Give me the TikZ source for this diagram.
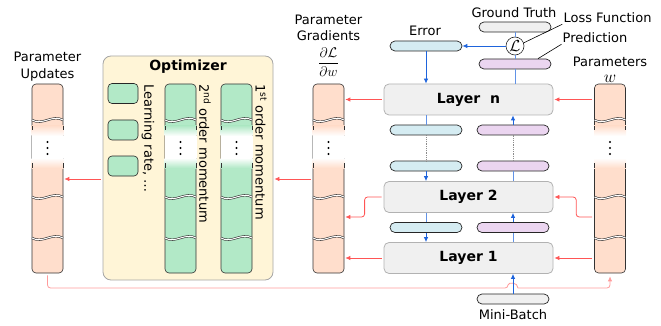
\RequirePackage{fix-cm}
\documentclass[tikz,border=0pt]{standalone}
\usepackage{fontspec}
\setmainfont{DejaVu Sans}
\usetikzlibrary{arrows.meta,positioning}

\definecolor{paramfill}{RGB}{255,222,204}
\definecolor{momfill}{RGB}{178,233,199}
\definecolor{optfill}{RGB}{255,245,215}
\definecolor{layerfill}{RGB}{240,240,240}
\definecolor{errfill}{RGB}{213,236,242}
\definecolor{predfill}{RGB}{235,213,240}
\definecolor{flowblue}{RGB}{30,100,220}
\definecolor{gradred}{RGB}{255,85,85}
\definecolor{updred}{RGB}{255,155,155}

% column of values with a faded middle part and cut marks
\newcommand{\drawcolumn}[3]{%
    \node[column, fill=#3] (#1) at (#2,178.5) {};
    \shade[top color=#3, bottom color=white] (#2-16,126) rectangle (#2+16,136);
    \fill[white] (#2-16,136) rectangle (#2+16,158);
    \shade[top color=white, bottom color=#3] (#2-16,158) rectangle (#2+16,168);
    \foreach \s in {-15.5,15.5}
        \draw[col edge] (#2+\s,126) -- (#2+\s,130) (#2+\s,163) -- (#2+\s,168);
    \foreach \d in {142,148,154}
        \fill (#2,\d) circle (1.1pt);
    \foreach \w in {120,197,238}
        \draw[cut] (#2-15.5,\w) .. controls (#2-5,\w+6) and (#2+5,\w-6) .. (#2+15.5,\w);
}

\begin{document}
\begin{tikzpicture}[x=1pt,y=-1pt]
    \tikzstyle{annot}=[inner sep=1pt, font=\fontsize{13}{17}\selectfont]
    \tikzstyle{side text}=[annot, rotate=-90, anchor=west, inner sep=0pt]
    \tikzstyle{column}=[rectangle, rounded corners=4pt, draw=black!80, line width=0.6pt, minimum width=31pt, minimum height=189pt, inner sep=0pt]
    \tikzstyle{col edge}=[draw=black!80, line width=0.6pt]
    \tikzstyle{cut}=[draw=black!80, line width=0.6pt, double=white, double distance=1pt]
    \tikzstyle{layer box}=[rectangle, rounded corners=5pt, draw=black!30, line width=0.8pt, fill=layerfill, minimum width=169pt, minimum height=31pt, font=\fontsize{14}{16}\selectfont\bfseries]
    \tikzstyle{small bar}=[rectangle, rounded corners=5pt, draw=black!85, line width=0.7pt, minimum width=72pt, minimum height=10pt, inner sep=0pt]
    \tikzstyle{error bar}=[small bar, fill=errfill]
    \tikzstyle{pred bar}=[small bar, fill=predfill]
    \tikzstyle{data bar}=[small bar, fill=layerfill]
    \tikzstyle{lr box}=[rectangle, rounded corners=4pt, draw=black!85, line width=0.6pt, fill=momfill, minimum width=30pt, minimum height=20pt]
    \tikzstyle{loss}=[circle, draw=black!85, line width=0.6pt, fill=white, minimum size=18pt, inner sep=0pt, font=\fontsize{16}{16}\selectfont]
    \tikzstyle{grad arrow}=[draw=gradred, line width=0.8pt, -{Latex[length=5pt,width=4.5pt]}, shorten <=2pt, shorten >=1pt]
    \tikzstyle{upd arrow}=[draw=updred, line width=0.8pt, -{Latex[length=5pt,width=4.5pt]}, gradred, draw=updred, shorten <=2pt, shorten >=3pt]
    \tikzstyle{flow line}=[draw=flowblue!70, line width=0.8pt]
    \tikzstyle{flow arrow}=[flow line, -{Latex[length=5pt,width=4.5pt]}, flowblue]
    \tikzstyle{flow dots}=[draw=black!45, line width=0.8pt, densely dotted]
    \tikzstyle{pointer}=[draw=black, line width=0.6pt]

    \useasboundingbox (0,0) rectangle (661,326);

    % Helper levels for the elbow connectors
    \coordinate (optline) at (0,179);
    \coordinate (sideline) at (0,217);
    \coordinate (HopL) at (508,288);
    \coordinate (HopR) at (518,288);

    % Optimizer with its state
    \node[rectangle, rounded corners=8pt, draw=black!35, line width=0.8pt, fill=optfill, minimum width=170pt, minimum height=224pt] (Opt) at (188,168) {};
    \node[font=\fontsize{14}{16}\selectfont\bfseries] (OptLbl) at (188,67) {Optimizer};
    \foreach \name / \y in {1/93.5,2/130,3/166}
        \node[lr box] (LR-\name) at (123,\y) {};
    \drawcolumn{M2}{180.5}{momfill}
    \drawcolumn{M1}{236.5}{momfill}
    \node[side text] (LRLbl) at (148,84) {Learning rate, \dots};
    \node[side text] (M2Lbl) at (205,84) {2\textsuperscript{nd} order momentum};
    \node[side text] (M1Lbl) at (261,84) {1\textsuperscript{st} order momentum};

    % Parameter columns
    \drawcolumn{U}{47.5}{paramfill}
    \drawcolumn{G}{328.5}{paramfill}
    \drawcolumn{W}{610}{paramfill}
    \node[annot, align=center, anchor=south] (ULbl) at (47.5,82) {Parameter\\Updates};
    \node[annot, align=center, font=\fontsize{13}{16}\selectfont] (GLbl) at (328.5,28) {Parameter\\Gradients};
    \node[inner sep=0pt, font=\fontsize{14}{14}\selectfont] (GFrac) at (328.5,62) {$\displaystyle\frac{\partial\mathcal{L}}{\partial w}$};
    \node[annot, align=center, anchor=south] (WLbl) at (610,84) {Parameters\\[-1pt]{\fontsize{17}{17}\selectfont$w$}};

    % Draw the layers
    \node[layer box] (Ln) at (468.5,99.5) {Layer\ \ n};
    \node[layer box] (L2) at (468.5,197) {Layer 2};
    \node[layer box] (L1) at (468.5,258) {Layer 1};

    % Activations and errors between the layers
    \node[error bar] (E) at (426,46) {};
    \node[error bar] (E1) at (426,130) {};
    \node[error bar] (E2) at (426,166) {};
    \node[error bar] (E3) at (426,227.5) {};
    \node[pred bar] (P) at (515,64) {};
    \node[pred bar] (P1) at (513,130) {};
    \node[pred bar] (P2) at (513,166) {};
    \node[pred bar] (P3) at (513,227.5) {};
    \node[data bar] (GT) at (515,27) {};
    \node[data bar] (MB) at (513,299) {};
    \node[loss] (Loss) at (515,46) {$\mathcal{L}$};

    % Annotate
    \node[annot] (ErrLbl) at (425,31) {Error};
    \node[annot] (GTLbl) at (514,13) {Ground Truth};
    \node[annot] (LossLbl) at (607.5,18) {Loss Function};
    \node[annot] (PredLbl) at (595,38) {Prediction};
    \node[annot] (MBLbl) at (513,315) {Mini-Batch};
    \draw[pointer] (LossLbl.south west) -- (Loss.20);
    \draw[pointer] (PredLbl.south west) -- ([xshift=23pt]P.north);

    % Parameters into the layers, gradients out of them
    \draw[grad arrow] (W.west |- Ln.east) -- (Ln.east);
    \draw[grad arrow] (Ln.west) -- (G.east |- Ln.west);
    \draw[grad arrow, rounded corners=3pt] (W.west |- sideline) -- ++(-18,0) |- (L2.east);
    \draw[grad arrow, rounded corners=3pt] (L2.west) -- ++(-19,0) |- (G.east |- sideline);
    \draw[grad arrow] (W.west |- L1.east) -- (L1.east);
    \draw[grad arrow] (L1.west) -- (G.east |- L1.west);
    \draw[grad arrow] (G.west |- optline) -- (Opt.east |- optline);
    \draw[grad arrow] (Opt.west |- optline) -- (U.east |- optline);
    \draw[upd arrow] (U.south) [rounded corners=3pt] |- (HopL) [sharp corners] .. controls +(0,-6) and +(0,-6) .. (HopR) [rounded corners=3pt] -| (W.south);

    % Forward and backward pass
    \draw[flow arrow] (Loss.west) -- (E.east);
    \draw[flow line] (Loss.north) -- (GT.south);
    \draw[flow line] (Loss.south) -- (P.north);
    \draw[flow arrow] (E.south) -- (E.south |- Ln.north);
    \draw[flow line] (P.south) -- (P.south |- Ln.north);
    \draw[flow line] (E1.north |- Ln.south) -- (E1.north);
    \draw[flow dots] (E1.south) -- (E2.north);
    \draw[flow arrow] (E2.south) -- (E2.south |- L2.north);
    \draw[flow arrow] (P1.north) -- (P1.north |- Ln.south);
    \draw[flow dots] (P2.north) -- (P1.south);
    \draw[flow line] (P2.south |- L2.north) -- (P2.south);
    \draw[flow line] (E3.north |- L2.south) -- (E3.north);
    \draw[flow arrow] (E3.south) -- (E3.south |- L1.north);
    \draw[flow line] (P3.south |- L1.north) -- (P3.south);
    \draw[flow arrow] (P3.north) -- (P3.north |- L2.south);
    \draw[flow arrow] (MB.north) -- (MB.north |- L1.south);
\end{tikzpicture}
\end{document}
